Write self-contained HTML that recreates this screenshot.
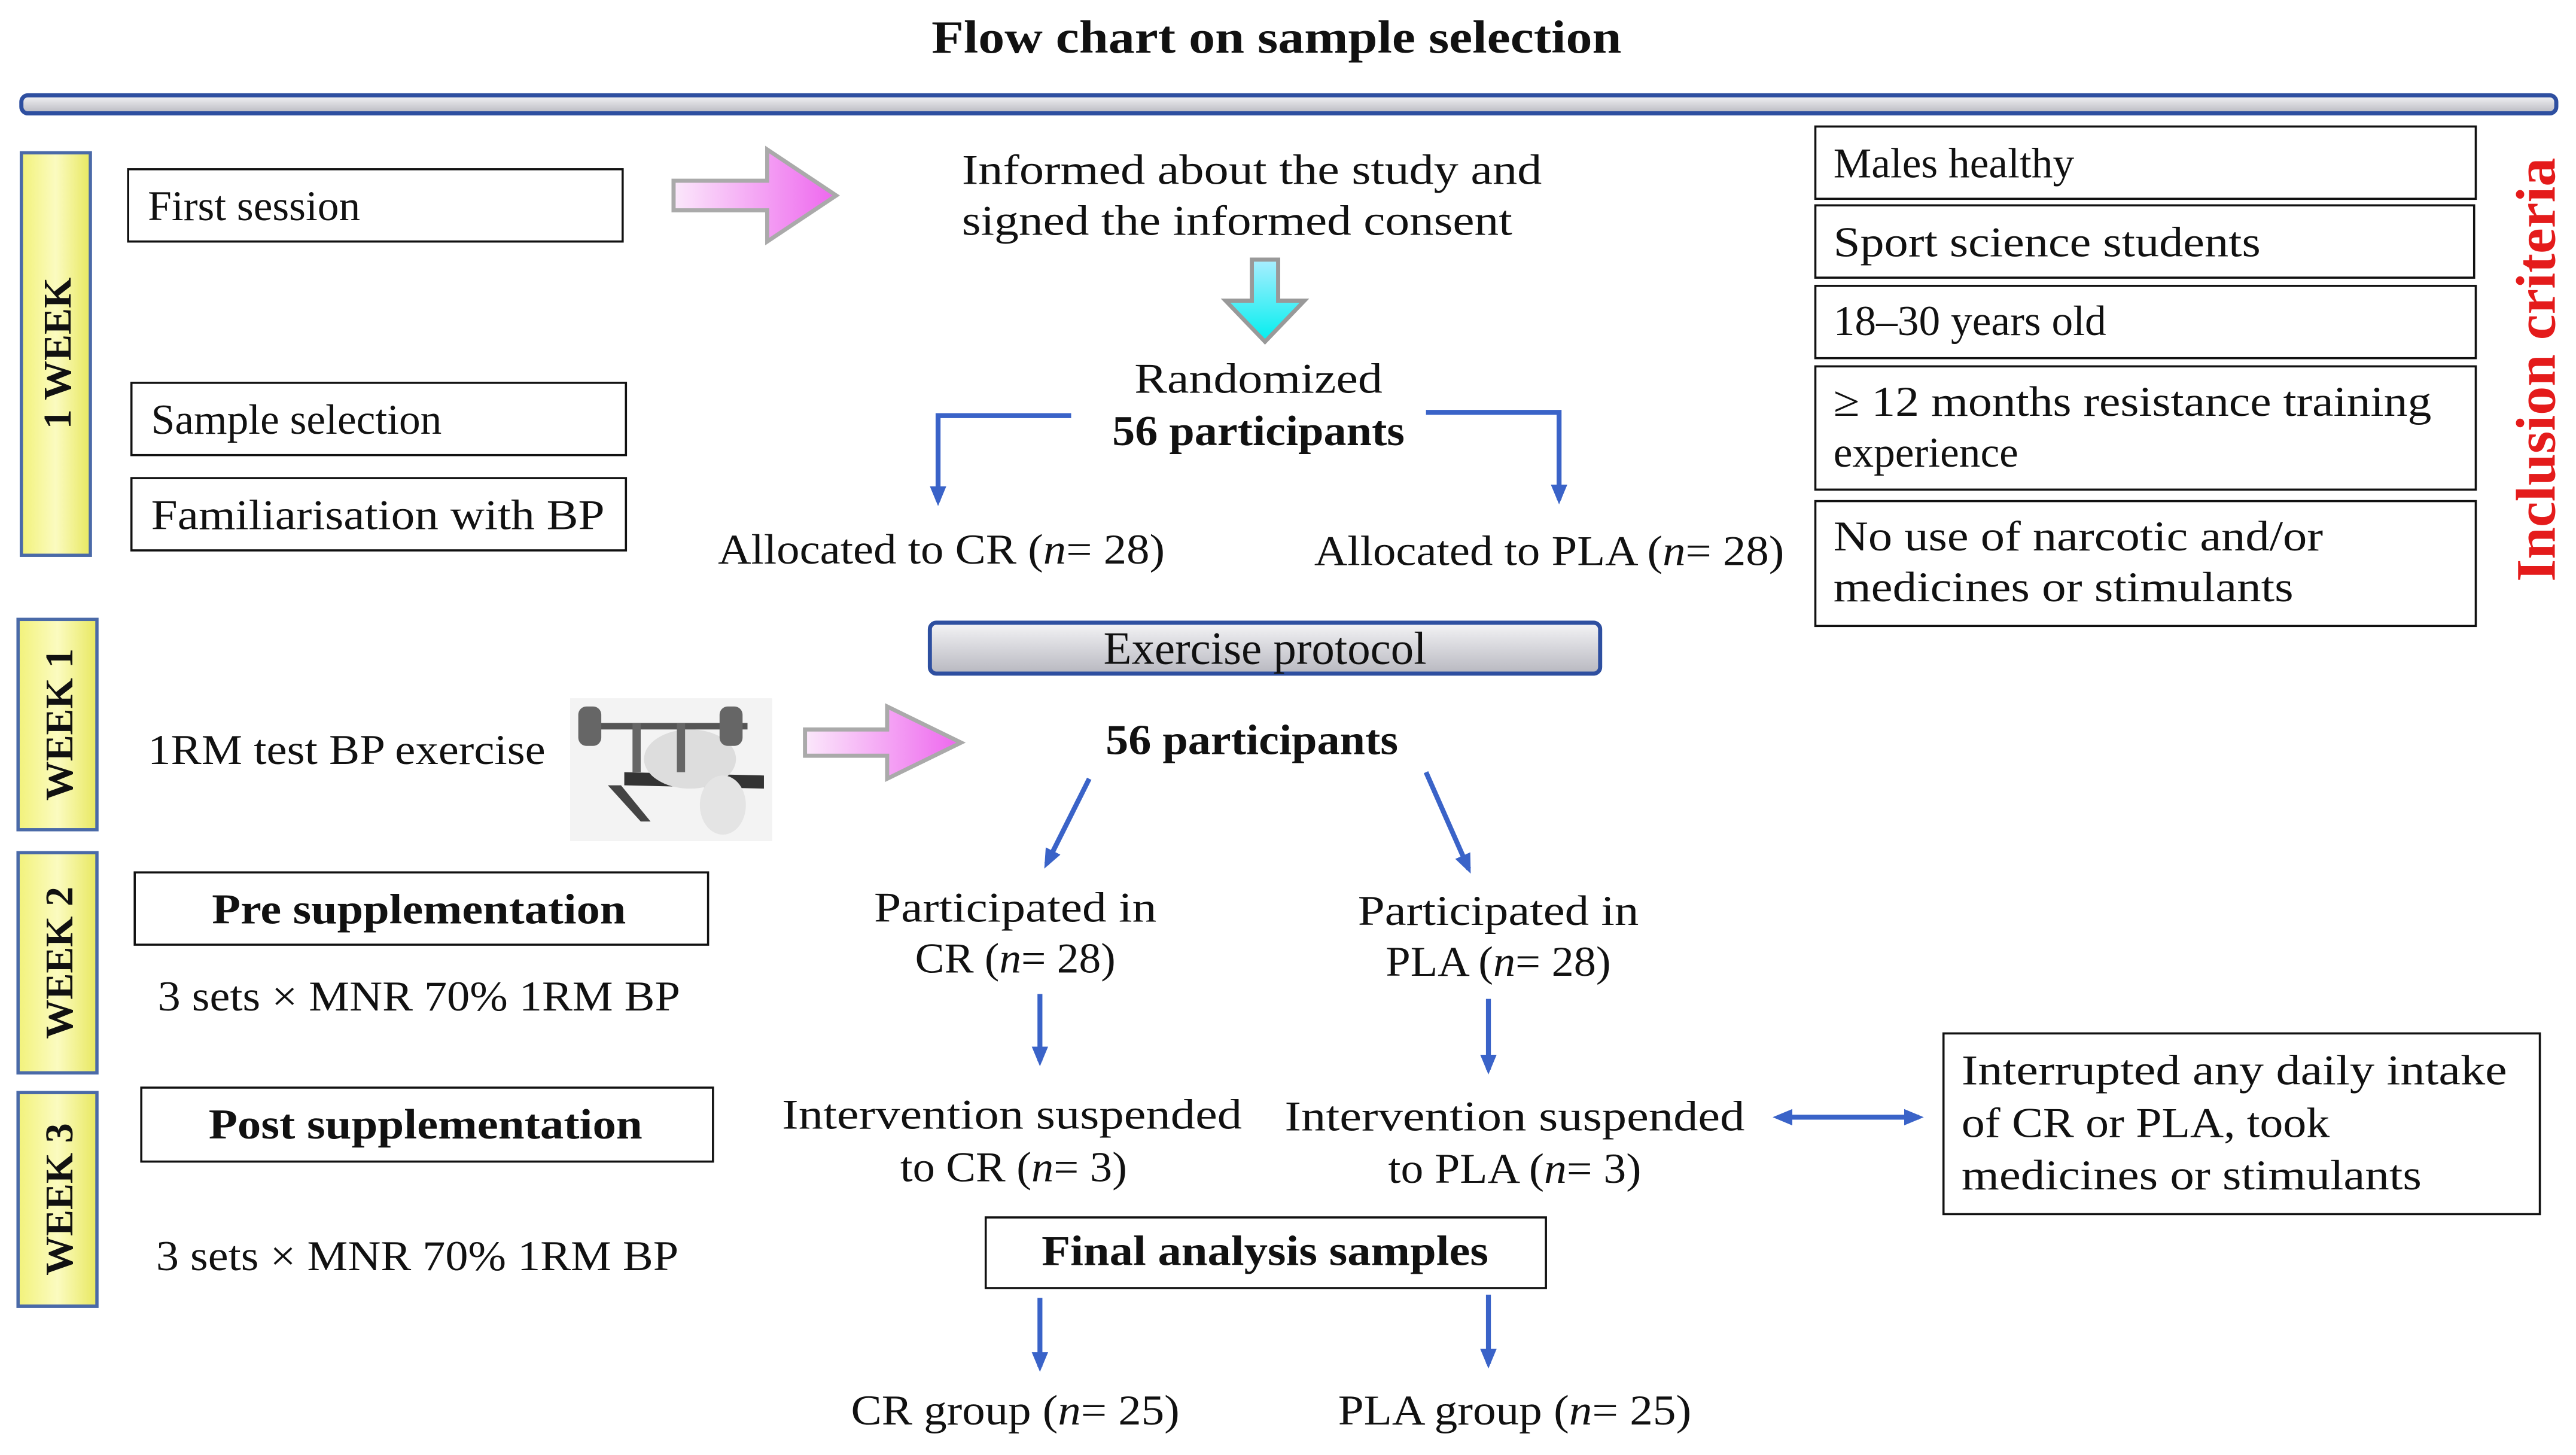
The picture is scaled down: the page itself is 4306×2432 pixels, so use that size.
<!DOCTYPE html>
<html><head><meta charset="utf-8"><style>
html,body{margin:0;padding:0;background:#fff;}
svg{display:block}
text{font-family:"Liberation Serif",serif;fill:#111;}
</style></head><body>
<svg width="4306" height="2432" viewBox="0 0 1568 885.6" xmlns="http://www.w3.org/2000/svg">
<defs>
<linearGradient id="yel" x1="0" y1="0" x2="1" y2="0"><stop offset="0" stop-color="#f2f27a"/><stop offset="0.5" stop-color="#fbfbc0"/><stop offset="1" stop-color="#e8e860"/></linearGradient>
<linearGradient id="gray" x1="0" y1="0" x2="0" y2="1"><stop offset="0" stop-color="#f4f4f6"/><stop offset="1" stop-color="#b8b8c0"/></linearGradient>
<linearGradient id="pink" x1="0" y1="0" x2="1" y2="0"><stop offset="0" stop-color="#fbe8fb"/><stop offset="1" stop-color="#ee66ee"/></linearGradient>
<linearGradient id="cyan" x1="0" y1="0" x2="0" y2="1"><stop offset="0" stop-color="#aef"/><stop offset="1" stop-color="#0ee"/></linearGradient>
<marker id="ah" markerWidth="12" markerHeight="12" refX="9" refY="6" orient="auto" markerUnits="userSpaceOnUse"><path d="M0,1 L12,6 L0,11 Z" fill="#3a63c8"/></marker>
<marker id="ahs" markerWidth="12" markerHeight="12" refX="3" refY="6" orient="auto-start-reverse" markerUnits="userSpaceOnUse"><path d="M0,1 L12,6 L0,11 Z" fill="#3a63c8"/></marker>
</defs>

<text x="777" y="32" text-anchor="middle" font-size="28" font-weight="bold" textLength="420" lengthAdjust="spacingAndGlyphs">Flow chart on sample selection</text>
<rect x="13" y="58" width="1543" height="11" rx="4" fill="url(#gray)" stroke="#2e4fa0" stroke-width="2.5"/>

<g stroke="#4a6aa8" stroke-width="2" fill="url(#yel)">
<rect x="13" y="93" width="42" height="245"/>
<rect x="11" y="377" width="48" height="128"/>
<rect x="11" y="519" width="48" height="134"/>
<rect x="11" y="665" width="48" height="130"/>
</g>
<g font-weight="bold" font-size="24">
<text transform="translate(43,215) rotate(-90)" text-anchor="middle">1 WEEK</text>
<text transform="translate(44,441) rotate(-90)" text-anchor="middle">WEEK 1</text>
<text transform="translate(44,586) rotate(-90)" text-anchor="middle">WEEK 2</text>
<text transform="translate(44,730) rotate(-90)" text-anchor="middle">WEEK 3</text>
</g>

<g fill="#fff" stroke="#111" stroke-width="1.3">
<rect x="78" y="103" width="301" height="44"/>
<rect x="80" y="233" width="301" height="44"/>
<rect x="80" y="291" width="301" height="44"/>
<rect x="82" y="531" width="349" height="44"/>
<rect x="86" y="662" width="348" height="45"/>
<rect x="600" y="741" width="341" height="43"/>
<rect x="1105" y="77" width="402" height="44"/>
<rect x="1105" y="125" width="401" height="44"/>
<rect x="1105" y="174" width="402" height="44"/>
<rect x="1105" y="223" width="402" height="75"/>
<rect x="1105" y="305" width="402" height="76"/>
<rect x="1183" y="629" width="363" height="110"/>
</g>
<g font-size="26">
<text x="90" y="134">First session</text>
<text x="92" y="264">Sample selection</text>
<text x="92" y="322" textLength="276" lengthAdjust="spacingAndGlyphs">Familiarisation with BP</text>
<text x="255" y="562" text-anchor="middle" font-weight="bold" textLength="252" lengthAdjust="spacingAndGlyphs">Pre supplementation</text>
<text x="259" y="693" text-anchor="middle" font-weight="bold" textLength="264" lengthAdjust="spacingAndGlyphs">Post supplementation</text>
<text x="96" y="615" textLength="318" lengthAdjust="spacingAndGlyphs">3 sets × MNR 70% 1RM BP</text>
<text x="95" y="773" textLength="318" lengthAdjust="spacingAndGlyphs">3 sets × MNR 70% 1RM BP</text>
<text x="90" y="465" textLength="242" lengthAdjust="spacingAndGlyphs">1RM test BP exercise</text>
<text x="770" y="770" text-anchor="middle" font-weight="bold" textLength="272" lengthAdjust="spacingAndGlyphs">Final analysis samples</text>

<text x="1116" y="108">Males healthy</text>
<text x="1116" y="156" textLength="260" lengthAdjust="spacingAndGlyphs">Sport science students</text>
<text x="1116" y="204">18–30 years old</text>
<text x="1116" y="253" textLength="364" lengthAdjust="spacingAndGlyphs">≥ 12 months resistance training</text>
<text x="1116" y="284">experience</text>
<text x="1116" y="335" textLength="298" lengthAdjust="spacingAndGlyphs">No use of narcotic and/or</text>
<text x="1116" y="366" textLength="280" lengthAdjust="spacingAndGlyphs">medicines or stimulants</text>

<text x="1194" y="660" textLength="332" lengthAdjust="spacingAndGlyphs">Interrupted any daily intake</text>
<text x="1194" y="692" textLength="224" lengthAdjust="spacingAndGlyphs">of CR or PLA, took</text>
<text x="1194" y="724" textLength="280" lengthAdjust="spacingAndGlyphs">medicines or stimulants</text>

<text x="762" y="112" text-anchor="middle" textLength="353" lengthAdjust="spacingAndGlyphs">Informed about the study and</text>
<text x="753" y="143" text-anchor="middle" textLength="335" lengthAdjust="spacingAndGlyphs">signed the informed consent</text>
<text x="766" y="239" text-anchor="middle" textLength="151" lengthAdjust="spacingAndGlyphs">Randomized</text>
<text x="766" y="271" text-anchor="middle" font-weight="bold" textLength="178" lengthAdjust="spacingAndGlyphs">56 participants</text>
<text x="573" y="343" text-anchor="middle" textLength="272" lengthAdjust="spacingAndGlyphs">Allocated to CR (<tspan font-style="italic">n</tspan>= 28)</text>
<text x="943" y="344" text-anchor="middle" textLength="286" lengthAdjust="spacingAndGlyphs">Allocated to PLA (<tspan font-style="italic">n</tspan>= 28)</text>
<text x="762" y="459" text-anchor="middle" font-weight="bold" textLength="178" lengthAdjust="spacingAndGlyphs">56 participants</text>
<text x="618" y="561" text-anchor="middle" textLength="172" lengthAdjust="spacingAndGlyphs">Participated in</text>
<text x="618" y="592" text-anchor="middle" textLength="122" lengthAdjust="spacingAndGlyphs">CR (<tspan font-style="italic">n</tspan>= 28)</text>
<text x="912" y="563" text-anchor="middle" textLength="171" lengthAdjust="spacingAndGlyphs">Participated in</text>
<text x="912" y="594" text-anchor="middle" textLength="137" lengthAdjust="spacingAndGlyphs">PLA (<tspan font-style="italic">n</tspan>= 28)</text>
<text x="616" y="687" text-anchor="middle" textLength="280" lengthAdjust="spacingAndGlyphs">Intervention suspended</text>
<text x="617" y="719" text-anchor="middle" textLength="138" lengthAdjust="spacingAndGlyphs">to CR (<tspan font-style="italic">n</tspan>= 3)</text>
<text x="922" y="688" text-anchor="middle" textLength="280" lengthAdjust="spacingAndGlyphs">Intervention suspended</text>
<text x="922" y="720" text-anchor="middle" textLength="154" lengthAdjust="spacingAndGlyphs">to PLA (<tspan font-style="italic">n</tspan>= 3)</text>
<text x="618" y="867" text-anchor="middle" textLength="200" lengthAdjust="spacingAndGlyphs">CR group (<tspan font-style="italic">n</tspan>= 25)</text>
<text x="922" y="867" text-anchor="middle" textLength="215" lengthAdjust="spacingAndGlyphs">PLA group (<tspan font-style="italic">n</tspan>= 25)</text>
</g>

<text transform="translate(1555,225) rotate(-90)" text-anchor="middle" font-size="34" font-weight="bold" style="fill:#e41b1b" textLength="258" lengthAdjust="spacingAndGlyphs">Inclusion criteria</text>

<rect x="566" y="379" width="408" height="31" rx="4" fill="url(#gray)" stroke="#2e4fa0" stroke-width="2.5"/>
<text x="770" y="404" text-anchor="middle" font-size="28">Exercise protocol</text>

<path d="M410,110 L467,110 L467,91 L509,119 L467,147 L467,128 L410,128 Z" fill="url(#pink)" stroke="#aaa" stroke-width="2.5"/>
<path d="M490,444 L540,444 L540,430 L585,452 L540,474 L540,460 L490,460 Z" fill="url(#pink)" stroke="#aaa" stroke-width="2.5"/>
<path d="M762,158 L778,158 L778,183 L794,183 L770,208 L746,183 L762,183 Z" fill="url(#cyan)" stroke="#999" stroke-width="2.5"/>

<g stroke="#3a63c8" stroke-width="3" fill="none">
<path d="M652,253 L571,253 L571,305" marker-end="url(#ah)"/>
<path d="M868,251 L949,251 L949,304" marker-end="url(#ah)"/>
<path d="M663,474 L637,526" marker-end="url(#ah)"/>
<path d="M868,470 L894,529" marker-end="url(#ah)"/>
<path d="M633,605 L633,646" marker-end="url(#ah)"/>
<path d="M906,608 L906,651" marker-end="url(#ah)"/>
<path d="M633,790 L633,832" marker-end="url(#ah)"/>
<path d="M906,788 L906,830" marker-end="url(#ah)"/>
<path d="M1088,680 L1168,680" marker-start="url(#ahs)" marker-end="url(#ah)"/>
</g>

<g>
<rect x="347" y="425" width="123" height="87" fill="#f3f3f3"/>
<path d="M380,470 L465,472 L465,480 L380,478 Z" fill="#333"/>
<path d="M370,478 L390,500 L396,500 L378,478 Z" fill="#444"/>
<rect x="440" y="478" width="6" height="22" fill="#444"/>
<ellipse cx="420" cy="462" rx="28" ry="18" fill="#ddd"/>
<ellipse cx="440" cy="490" rx="14" ry="18" fill="#e4e4e4"/>
<rect x="355" y="440" width="100" height="4" fill="#555"/>
<rect x="352" y="430" width="14" height="24" rx="5" fill="#666"/>
<rect x="438" y="430" width="14" height="24" rx="5" fill="#666"/>
<rect x="385" y="440" width="5" height="30" fill="#666"/>
<rect x="412" y="440" width="5" height="30" fill="#666"/>
</g>
</svg>
</body></html>
